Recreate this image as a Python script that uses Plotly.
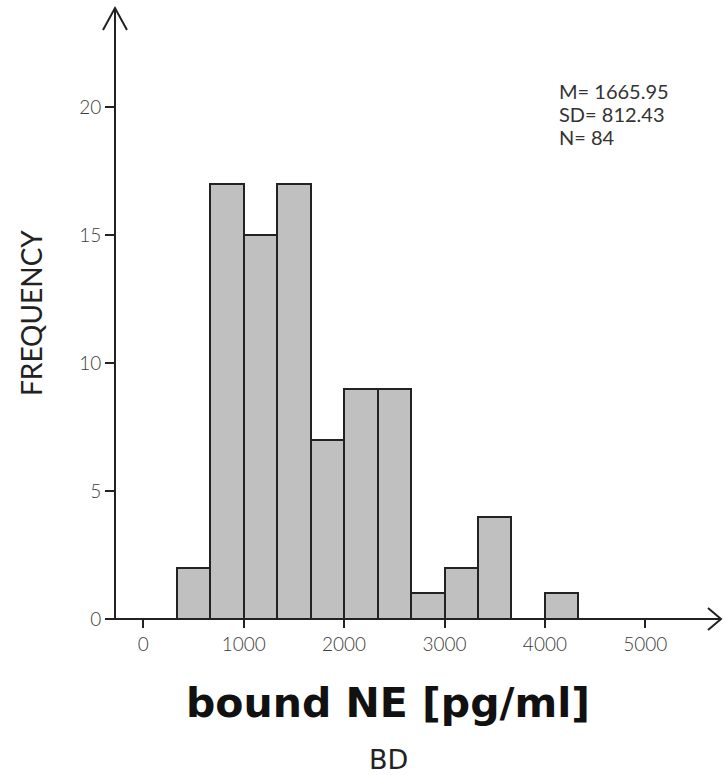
import plotly.graph_objects as go

# Histogram of bound NE concentrations (pre-binned counts)
bin_left = [333.3, 666.7, 1000.0, 1333.3, 1666.7, 2000.0, 2333.3, 2666.7, 3000.0, 3333.3, 3666.7, 4000.0]
bin_width = 333.3
counts = [2, 17, 15, 17, 7, 9, 9, 1, 2, 4, 0, 1]

x_ticks = [0, 1000, 2000, 3000, 4000, 5000]
y_ticks = [0, 5, 10, 15, 20]
stats_lines = ["M= 1665.95", "SD= 812.43", "N= 84"]

W, H = 723, 775
PL, PR, PT, PB = 115, 720, 8, 619          # plot area in pixels
X_RANGE = [-282, 5744]
Y_RANGE = [0, 23.86]

INK = "#222222"
TICK_FONT = dict(family="Lato", size=19, color="#3c3c3c", weight=300)


def px(x):
    return (x - PL) / (PR - PL)


def py(y):
    return (PB - y) / (PB - PT)


fig = go.Figure()
fig.add_trace(go.Bar(
    x=bin_left, y=counts, width=bin_width, offset=0,
    marker=dict(color="#c0c0c0", line=dict(color=INK, width=2)),
    hoverinfo="skip",
))

line_style = dict(color=INK, width=2)
shapes = [
    # x axis with open arrowhead
    dict(type="line", xref="paper", yref="paper", x0=px(107), x1=px(721), y0=0, y1=0, line=line_style),
    dict(type="path", xref="paper", yref="paper",
         path=f"M {px(708)},{py(608)} L {px(721)},{py(619)} L {px(708)},{py(630)}", line=line_style),
    # y axis with open arrowhead
    dict(type="line", xref="paper", yref="paper", x0=0, x1=0, y0=0, y1=1, line=line_style),
    dict(type="path", xref="paper", yref="paper",
         path=f"M {px(103)},{py(30)} L {px(115)},{py(8)} L {px(127)},{py(30)}", line=line_style),
]

annotations = [
    dict(text="FREQUENCY", xref="paper", yref="paper", x=px(31), y=py(313),
         textangle=-90, showarrow=False, xanchor="center", yanchor="middle",
         font=dict(family="Lato", size=28, color=INK)),
    dict(text="<b>bound NE [pg/ml]</b>", xref="paper", yref="paper", x=px(388), y=py(703),
         showarrow=False, xanchor="center", yanchor="middle",
         font=dict(family="DejaVu Sans", size=41, color="#111111")),
    dict(text="BD", xref="paper", yref="paper", x=px(388), y=py(759),
         showarrow=False, xanchor="center", yanchor="middle",
         font=dict(family="DejaVu Sans", size=27, color=INK)),
]
for i, s in enumerate(stats_lines):
    annotations.append(dict(
        text=s, xref="paper", yref="paper", x=px(557), y=py(91 + 23 * i),
        showarrow=False, xanchor="left", yanchor="middle",
        font=dict(family="Lato", size=20, color="#333333"),
    ))

fig.update_layout(
    width=W, height=H,
    margin=dict(l=PL, r=W - PR, t=PT, b=H - PB, pad=0),
    paper_bgcolor="white", plot_bgcolor="white",
    showlegend=False, bargap=0,
    shapes=shapes, annotations=annotations,
    xaxis=dict(range=X_RANGE, tickvals=x_ticks, ticks="outside", ticklen=8, tickwidth=2,
               tickcolor=INK, showline=False, zeroline=False, showgrid=False,
               tickfont=TICK_FONT, fixedrange=True),
    yaxis=dict(range=Y_RANGE, tickvals=y_ticks, ticks="outside", ticklen=9, tickwidth=2,
               tickcolor=INK, showline=False, zeroline=False, showgrid=False,
               tickfont=TICK_FONT, fixedrange=True),
)

fig.write_html("out.html")
